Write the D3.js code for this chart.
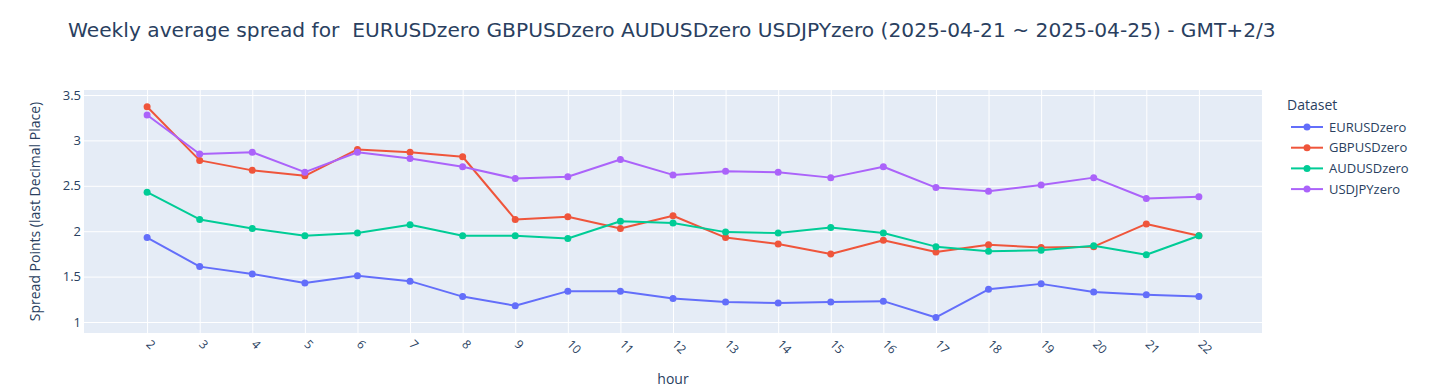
<!DOCTYPE html>
<html><head><meta charset="utf-8">
<script src="https://cdn.jsdelivr.net/npm/d3@7"></script>
<style>body{margin:0;background:#fff}svg{display:block}text{font-family:"Open Sans",sans-serif;fill:#2a3f5f}</style>
</head><body>
<script>
const hours = [2,3,4,5,6,7,8,9,10,11,12,13,14,15,16,17,18,19,20,21,22];
const seriesNames = ["EURUSDzero","GBPUSDzero","AUDUSDzero","USDJPYzero"];
const colors = ["#636efa","#EF553B","#00cc96","#ab63fa"];
const EURUSDzero = [1.93,1.61,1.53,1.43,1.51,1.45,1.28,1.18,1.34,1.34,1.26,1.22,1.21,1.22,1.23,1.05,1.36,1.42,1.33,1.30,1.28];
const GBPUSDzero = [3.37,2.78,2.67,2.61,2.90,2.87,2.82,2.13,2.16,2.03,2.17,1.93,1.86,1.75,1.90,1.77,1.85,1.82,1.83,2.08,1.95];
const AUDUSDzero = [2.43,2.13,2.03,1.95,1.98,2.07,1.95,1.95,1.92,2.11,2.09,1.99,1.98,2.04,1.98,1.83,1.78,1.79,1.84,1.74,1.95];
const USDJPYzero = [3.28,2.85,2.87,2.65,2.87,2.80,2.71,2.58,2.60,2.79,2.62,2.66,2.65,2.59,2.71,2.48,2.44,2.51,2.59,2.36,2.38];
const yTicks = [1,1.5,2,2.5,3,3.5];
const titleText = "Weekly average spread for  EURUSDzero GBPUSDzero AUDUSDzero USDJPYzero (2025-04-21 ~ 2025-04-25) - GMT+2/3";
const series = [EURUSDzero,GBPUSDzero,AUDUSDzero,USDJPYzero];

const W=1444,H=391;
const m={l:84,r:182,t:90,b:58};
const svg=d3.select("body").append("svg").attr("width",W).attr("height",H);
const x=d3.scaleLinear().domain([0.8,23.2]).range([m.l,W-m.r]);
const y=d3.scaleLinear().domain([0.879,3.555]).range([H-m.b,m.t]);

svg.append("rect").attr("x",m.l).attr("y",m.t).attr("width",W-m.r-m.l).attr("height",H-m.b-m.t).attr("fill","#E5ECF6");

const gx=svg.append("g").attr("transform",`translate(0,${H-m.b})`)
 .call(d3.axisBottom(x).tickValues(hours).tickSize(-(H-m.b-m.t)).tickFormat(d3.format("d")));
gx.select(".domain").remove();
gx.selectAll("line").attr("stroke","#fff").attr("stroke-width",1);
gx.selectAll("text").attr("font-size",12).attr("fill","#2a3f5f")
 .attr("text-anchor","start").attr("dy",null).attr("y",0)
 .attr("transform","translate(-2,12) rotate(45)");

const gy=svg.append("g").attr("transform",`translate(${m.l},0)`)
 .call(d3.axisLeft(y).tickValues(yTicks).tickSize(-(W-m.r-m.l)).tickPadding(3).tickFormat(d=>d3.format("")(d)));
gy.select(".domain").remove();
gy.selectAll("line").attr("stroke","#fff").attr("stroke-width",1);
gy.selectAll("text").attr("font-size",13).attr("fill","#2a3f5f");

const line=d3.line().x((d,i)=>x(hours[i])).y(d=>y(d));
series.forEach((s,k)=>{
  svg.append("path").datum(s).attr("d",line).attr("fill","none").attr("stroke",colors[k]).attr("stroke-width",2).attr("stroke-linejoin","round");
  svg.append("g").selectAll("circle").data(s).join("circle")
   .attr("cx",(d,i)=>x(hours[i])).attr("cy",d=>y(d)).attr("r",3.5).attr("fill",colors[k]);
});

const ttl=svg.append("text").attr("x",68).attr("y",37).attr("font-size",18)
  .style("font-family","'DejaVu Sans',Verdana,sans-serif").style("white-space","pre")
  .attr("xml:space","preserve").text(titleText);
const tw=ttl.node().getComputedTextLength();
ttl.attr("font-size",18*1209/tw);

svg.append("text").attr("x",(m.l+W-m.r)/2).attr("y",384).attr("text-anchor","middle").attr("font-size",14).text("hour");
svg.append("text").attr("transform",`translate(40,${(m.t+H-m.b)/2}) rotate(-90)`).attr("text-anchor","middle").attr("font-size",14).text("Spread Points (last Decimal Place)");

const lg=svg.append("g").attr("transform","translate(1287,0)");
lg.append("text").attr("x",0).attr("y",110).attr("font-size",14).text("Dataset");
seriesNames.forEach((n,k)=>{
  const yy=127+k*20.7;
  lg.append("line").attr("x1",4).attr("x2",36).attr("y1",yy).attr("y2",yy).attr("stroke",colors[k]).attr("stroke-width",2);
  lg.append("circle").attr("cx",20).attr("cy",yy).attr("r",3.5).attr("fill",colors[k]);
  lg.append("text").attr("x",42).attr("y",yy+4.5).attr("font-size",13).text(n);
});
</script>
</body></html>
